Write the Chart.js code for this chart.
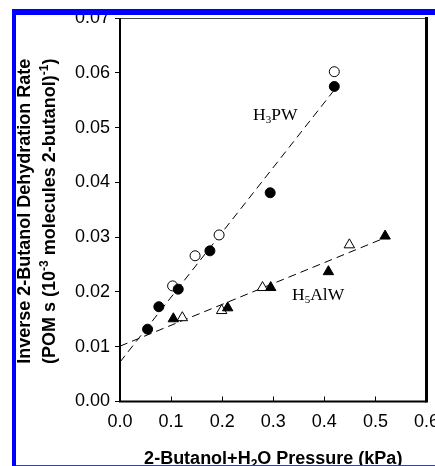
<!DOCTYPE html>
<html>
<head>
<meta charset="utf-8">
<script src="https://cdn.jsdelivr.net/npm/chart.js@4/dist/chart.umd.min.js"></script>
<style>
  html, body { margin: 0; padding: 0; background: #fff; }
  canvas { display: block; }
</style>
</head>
<body>
<canvas id="c" width="435" height="466"></canvas>
<script>
// H3PW catalyst: filled and open circles
const pwFilledX = [0.054, 0.076, 0.114, 0.176, 0.294, 0.4195];
const pwFilledY = [0.0132, 0.0173, 0.0205, 0.0275, 0.0381, 0.0575];
const pwOpenX = [0.103, 0.147, 0.194, 0.4195];
const pwOpenY = [0.0211, 0.0266, 0.0304, 0.0602];
// H5AlW catalyst: filled and open triangles
const alwFilledX = [0.1044, 0.2108, 0.295, 0.408, 0.519];
const alwFilledY = [0.0151, 0.0171, 0.0208, 0.0237, 0.0302];
const alwOpenX = [0.122, 0.199, 0.279, 0.449];
const alwOpenY = [0.0153, 0.0166, 0.0208, 0.0286];
// Linear fits (end points)
const pwFitX = [0, 0.4164];
const pwFitY = [0.0072, 0.0565];
const alwFitX = [0, 0.522];
const alwFitY = [0.0101, 0.0300];
// Tick labels
const xTickLabels = ['0.0', '0.1', '0.2', '0.3', '0.4', '0.5', '0.6'];
const yTickLabels = ['0.00', '0.01', '0.02', '0.03', '0.04', '0.05', '0.06', '0.07'];
// Series labels placed in data coordinates (left, baseline)
const pwLabelPos = [0.2604, 0.0513];
const alwLabelPos = [0.3367, 0.0186];

const pts = (xs, ys) => xs.map((v, i) => ({ x: v, y: ys[i] }));

const SANS = '"Liberation Sans", Arial, sans-serif';
const SERIF = '"Liberation Serif", "Times New Roman", serif';

// Draw a run of text pieces [text, font, dy] starting at x
function drawRuns(ctx, runs, x, y) {
  let cx = x;
  for (const [t, f, dy] of runs) {
    ctx.font = f;
    ctx.fillText(t, cx, y + dy);
    cx += ctx.measureText(t).width;
  }
}
function runsWidth(ctx, runs) {
  let w = 0;
  for (const [t, f] of runs) { ctx.font = f; w += ctx.measureText(t).width; }
  return w;
}

const decor = {
  id: 'decor',
  beforeDatasetsDraw(chart) {
    const { ctx, chartArea: a, scales: { x } } = chart;
    ctx.save();
    ctx.strokeStyle = '#000';
    // inward x ticks
    ctx.lineWidth = 1;
    for (let i = 1; i < xTickLabels.length - 1; i++) {
      const px = Math.round(x.getPixelForValue(parseFloat(xTickLabels[i]))) + 0.5;
      ctx.beginPath();
      ctx.moveTo(px, a.bottom);
      ctx.lineTo(px, a.bottom - 5);
      ctx.stroke();
    }
    // top border (thin)
    ctx.strokeStyle = '#444';
    ctx.beginPath();
    ctx.moveTo(a.left, a.top + 0.5);
    ctx.lineTo(a.right, a.top + 0.5);
    ctx.stroke();
    // left & bottom spines
    ctx.strokeStyle = '#000';
    ctx.lineWidth = 2;
    ctx.beginPath();
    ctx.moveTo(a.left, a.top);
    ctx.lineTo(a.left, a.bottom);
    ctx.lineTo(a.right, a.bottom);
    ctx.stroke();
    // right spine (heavier)
    ctx.lineWidth = 3;
    ctx.beginPath();
    ctx.moveTo(a.right, a.top - 1);
    ctx.lineTo(a.right, a.bottom + 1);
    ctx.stroke();
    ctx.restore();
  },
  afterDraw(chart) {
    const { ctx, chartArea: a, scales: { x, y } } = chart;
    ctx.save();
    ctx.fillStyle = '#000';
    ctx.textBaseline = 'alphabetic';
    ctx.textAlign = 'left';

    // series labels
    const serif = '17.5px ' + SERIF;
    const serifSub = '11px ' + SERIF;
    drawRuns(ctx, [['H', serif, 0], ['3', serifSub, 3], ['PW', serif, 0]],
      x.getPixelForValue(pwLabelPos[0]), y.getPixelForValue(pwLabelPos[1]));
    drawRuns(ctx, [['H', serif, 0], ['5', serifSub, 3], ['AlW', serif, 0]],
      x.getPixelForValue(alwLabelPos[0]), y.getPixelForValue(alwLabelPos[1]));

    // x-axis title
    const bold = 'bold 18px ' + SANS;
    const boldSmall = 'bold 12px ' + SANS;
    const xRuns = [['2-Butanol+H', bold, 0], ['2', boldSmall, 4], ['O Pressure (kPa)', bold, 0]];
    const xw = runsWidth(ctx, xRuns);
    drawRuns(ctx, xRuns, (a.left + a.right) / 2 - xw / 2, 463.5);

    // y-axis title (two lines, rotated)
    const cy = (a.top + a.bottom) / 2 + 1.5;
    const line1 = [['Inverse 2-Butanol Dehydration Rate', bold, 0]];
    const line2 = [['(POM s (10', bold, 0], ['-3', boldSmall, -7],
                   [' molecules 2-butanol)', bold, 0], ['-1', boldSmall, -7], [')', bold, 0]];
    [[line1, 30], [line2, 55]].forEach(([runs, bx]) => {
      ctx.save();
      ctx.translate(bx, cy);
      ctx.rotate(-Math.PI / 2);
      const w = runsWidth(ctx, runs);
      drawRuns(ctx, runs, -w / 2, 0);
      ctx.restore();
    });

    // page margins and blue frame
    ctx.fillStyle = '#fff';
    ctx.fillRect(0, 0, 435, 9);
    ctx.fillRect(0, 0, 12, 466);
    ctx.fillStyle = '#0000ff';
    ctx.fillRect(12, 9, 423, 6);
    ctx.fillRect(12, 9, 4, 457);
    ctx.fillStyle = '#3333ff';
    ctx.fillRect(16, 465, 419, 1);
    ctx.restore();
  }
};

const fitStyle = {
  showLine: true, pointRadius: 0, borderColor: '#000', borderWidth: 1,
  borderDash: [8, 5], fill: false
};

new Chart(document.getElementById('c'), {
  type: 'scatter',
  data: {
    datasets: [
      { label: 'H3PW', data: pts(pwFilledX, pwFilledY), pointStyle: 'circle', pointRadius: 5,
        backgroundColor: '#000', borderColor: '#000', borderWidth: 1 },
      { label: 'H3PW', data: pts(pwOpenX, pwOpenY), pointStyle: 'circle', pointRadius: 5,
        backgroundColor: '#fff', borderColor: '#000', borderWidth: 1 },
      { label: 'H5AlW', data: pts(alwFilledX, alwFilledY), pointStyle: 'triangle', pointRadius: 6,
        backgroundColor: '#000', borderColor: '#000', borderWidth: 1 },
      { label: 'H5AlW', data: pts(alwOpenX, alwOpenY), pointStyle: 'triangle', pointRadius: 6,
        backgroundColor: '#fff', borderColor: '#000', borderWidth: 1 },
      Object.assign({ label: 'H3PW fit', data: pts(pwFitX, pwFitY) }, fitStyle),
      Object.assign({ label: 'H5AlW fit', data: pts(alwFitX, alwFitY) }, fitStyle)
    ]
  },
  options: {
    responsive: false,
    devicePixelRatio: 1,
    animation: false,
    layout: { padding: { left: 0, top: 18, right: 8.5, bottom: 0 } },
    plugins: { legend: { display: false }, tooltip: { enabled: false } },
    scales: {
      x: {
        type: 'linear', min: 0, max: 0.6,
        grid: { display: false, drawTicks: false },
        border: { display: false },
        ticks: {
          stepSize: 0.1, padding: 10, color: '#000',
          font: { family: SANS, size: 18 },
          maxRotation: 0,
          callback: (v, i) => xTickLabels[i]
        },
        afterFit(s) { s.height = 64.5; s.paddingLeft = 0; s.paddingRight = 0; }
      },
      y: {
        type: 'linear', min: 0, max: 0.07,
        grid: { display: true, drawOnChartArea: false, drawTicks: true, tickLength: 5,
                color: '#000', lineWidth: 1 },
        border: { display: false },
        ticks: {
          stepSize: 0.01, padding: 5, color: '#000',
          font: { family: SANS, size: 18 },
          callback: (v, i) => yTickLabels[i]
        },
        afterFit(s) { s.width = 120; s.paddingTop = 0; s.paddingBottom = 0; }
      }
    }
  },
  plugins: [decor]
});
</script>
</body>
</html>
